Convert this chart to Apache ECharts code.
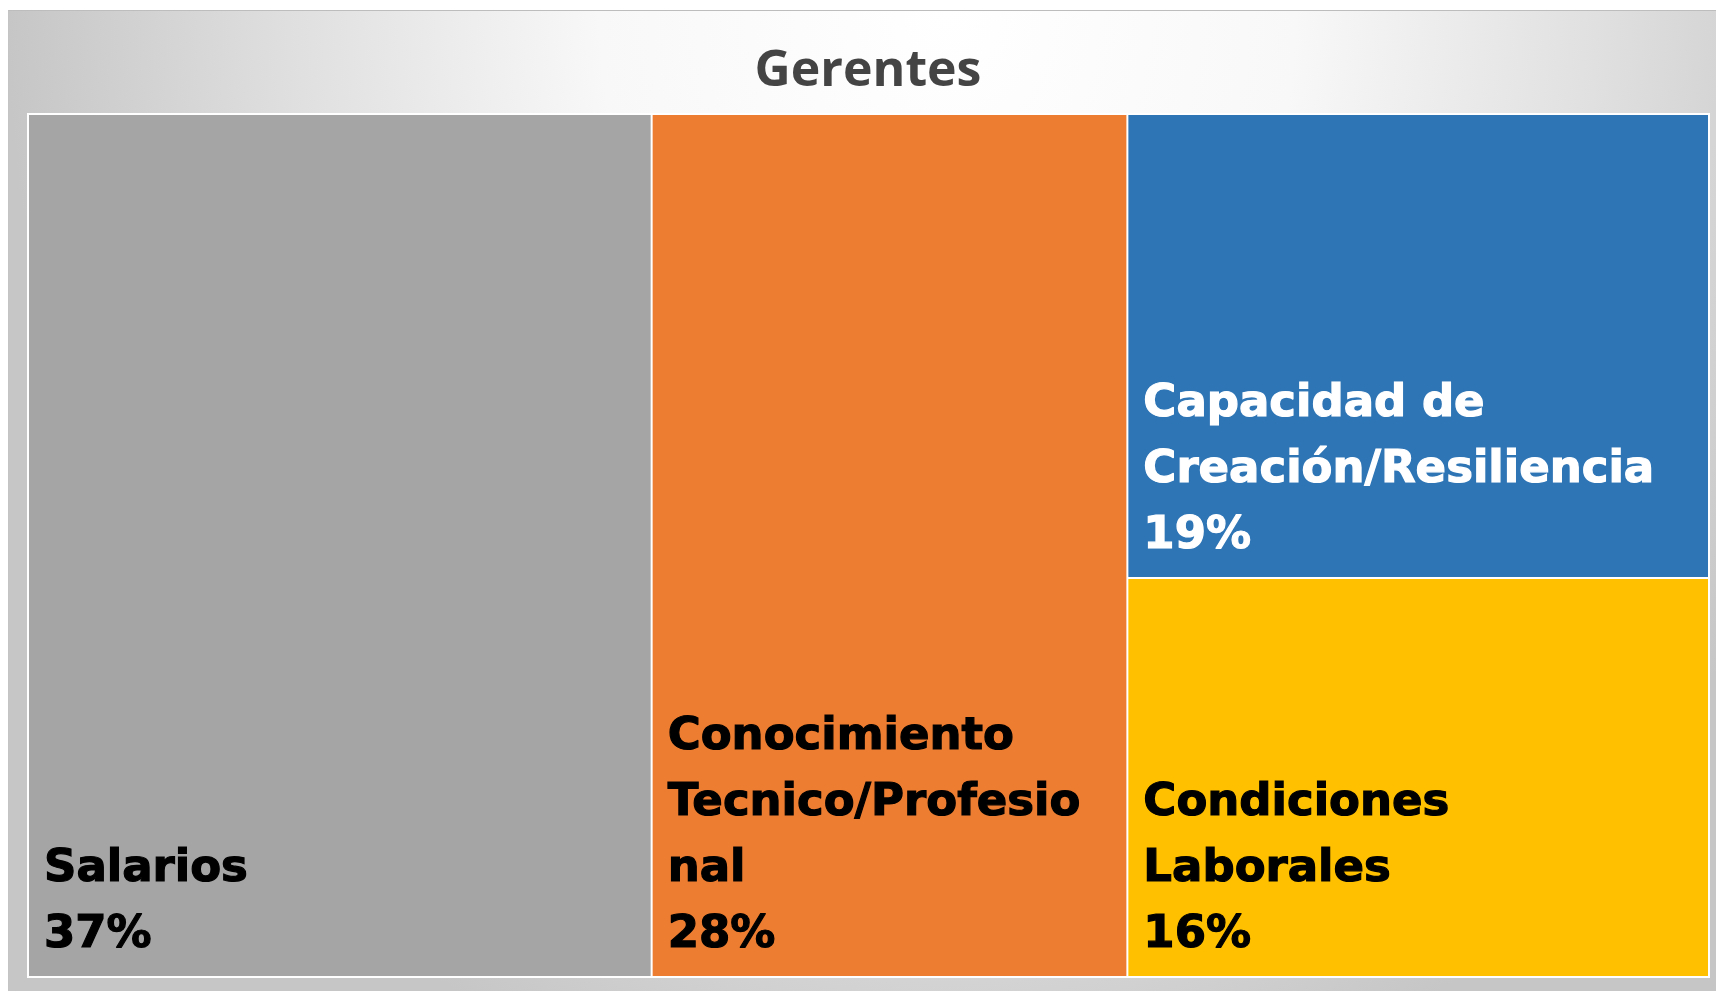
<!DOCTYPE html>
<html>
<head>
<meta charset="utf-8">
<script src="https://cdn.jsdelivr.net/npm/echarts@6/dist/echarts.min.js"></script>
<style>
  html, body { margin: 0; padding: 0; background: #ffffff; }
  #chart {
    position: absolute;
    left: 8px; top: 10px;
    width: 1708px; height: 981px;
    border-top: 1px solid #bdbdbd;
    border-left: 1px solid #c4c4c4;
    box-sizing: border-box;
    background: radial-gradient(940px 1150px at 55% 0%, #ffffff 0%, #f8f8f8 37%, #e0e0e0 69%, #c6c6c6 100%);
  }
</style>
</head>
<body>
<div id="chart"></div>
<script>
// --- 数据（按图中面积估计，标签显示四舍五入后的百分比）---
const titleText = 'Gerentes';
const categories = ['Salarios', 'Conocimiento Tecnico/Profesional', 'Capacidad de Creación/Resiliencia', 'Condiciones Laborales'];
const values = [37.1, 28.3, 18.6, 16.0];
const labelTexts = ['Salarios', 'Conocimiento\nTecnico/Profesio\nnal', 'Capacidad de\nCreación/Resiliencia', 'Condiciones\nLaborales'];
const colors = ['#a5a5a5', '#ed7d31', '#2e75b6', '#ffc000'];
const labelColors = ['#000000', '#000000', '#ffffff', '#000000'];

const chart = echarts.init(document.getElementById('chart'));

const data = categories.map((name, i) => ({
  name: name,
  value: values[i],
  itemStyle: { color: colors[i] },
  label: { color: labelColors[i], textBorderColor: labelColors[i] }
}));

chart.setOption({
  backgroundColor: 'transparent',
  animation: false,
  title: {
    text: titleText,
    left: 854,
    textAlign: 'center',
    top: 31,
    textStyle: {
      fontFamily: 'Open Sans',
      fontWeight: 'bold',
      fontSize: 50,
      color: '#444444'
    }
  },
  series: [{
    type: 'treemap',
    left: 18,
    top: 102,
    width: 1683,
    height: 865,
    squareRatio: 1,   // 标准 squarify，才能得到左-中-右的布局
    roam: false,
    nodeClick: false,
    breadcrumb: { show: false },
    sort: 'desc',
    levels: [
      { itemStyle: { borderColor: '#ffffff', borderWidth: 2, gapWidth: 2 } },
      { itemStyle: { borderWidth: 0 } }
    ],
    label: {
      show: true,
      position: 'insideBottomLeft',
      distance: 5,
      padding: [0, 0, 3, 10],
      fontFamily: 'DejaVu Sans',
      fontWeight: 'bold',
      fontSize: 45,
      lineHeight: 66,
      textBorderWidth: 1.2,
      overflow: 'none',
      formatter: function (p) {
        const i = categories.indexOf(p.name);
        return labelTexts[i] + '\n' + Math.round(p.value) + '%';
      }
    },
    data: data
  }]
});
</script>
</body>
</html>
